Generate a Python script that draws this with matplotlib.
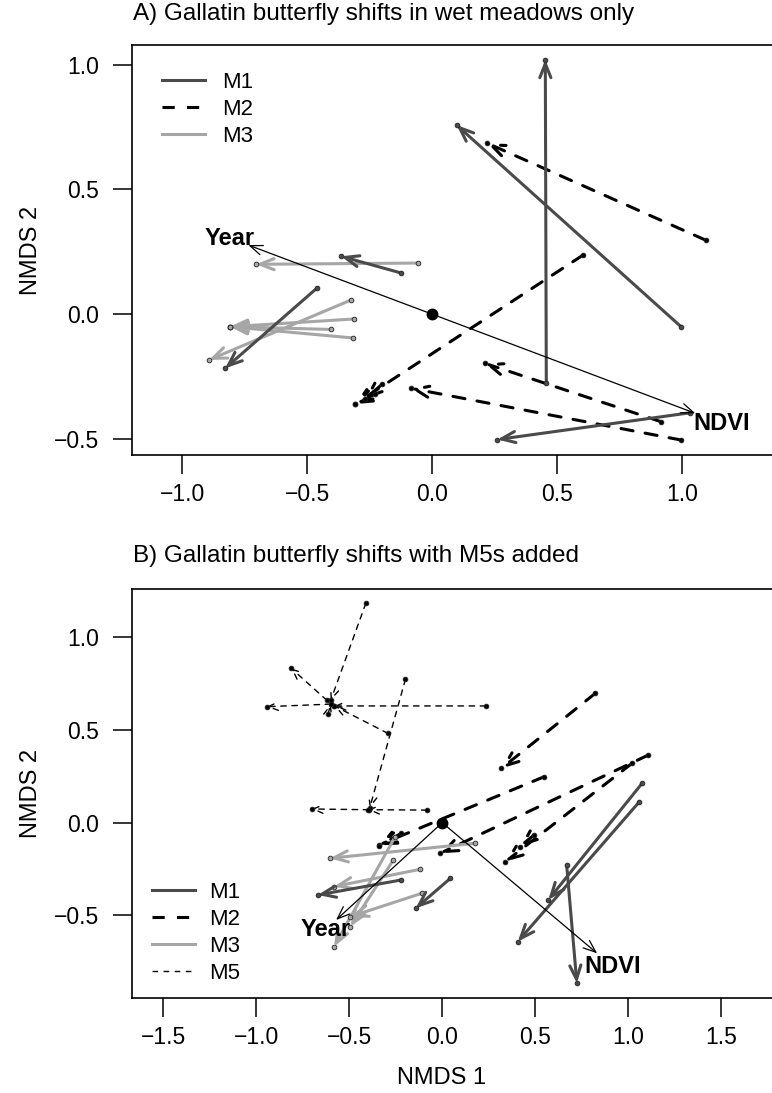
import numpy as np
import matplotlib
matplotlib.use('Agg')
import matplotlib.pyplot as plt

plt.rcParams['font.family'] = ['Liberation Sans', 'DejaVu Sans']

W, H = 772, 1093   #output size in px

#colours / styles of the meadow groups
c_m1 = '#4a4a4a'
c_m2 = '#000000'
c_m3 = '#a6a6a6'

# ---------------- panel A data (start -> end of each shift) ----------------
a_m1_x0 = [0.456, 0.995, 1.030, -0.124, -0.460]
a_m1_y0 = [-0.275, -0.050, -0.395, 0.165, 0.106]
a_m1_x1 = [0.452, 0.097, 0.260, -0.365, -0.829]
a_m1_y1 = [1.020, 0.758, -0.502, 0.232, -0.217]

a_m2_x0 = [1.093, 0.603, 0.995, 0.913, -0.200, -0.230]
a_m2_y0 = [0.297, 0.237, -0.504, -0.430, -0.280, -0.320]
a_m2_x1 = [0.220, -0.310, -0.085, 0.211, -0.270, -0.310]
a_m2_y1 = [0.685, -0.360, -0.297, -0.197, -0.340, -0.360]

a_m3_x0 = [-0.058, -0.325, -0.312, -0.319, -0.406]
a_m3_y0 = [0.205, 0.057, -0.019, -0.095, -0.061]
a_m3_x1 = [-0.705, -0.893, -0.809, -0.809, -0.809]
a_m3_y1 = [0.200, -0.183, -0.050, -0.050, -0.050]

a_env_names = ['Year', 'NDVI']
a_env_x = [-0.736, 1.052]
a_env_y = [0.277, -0.397]

# ---------------- panel B data ----------------
b_m1_x0 = [1.075, 1.060, 0.669, -0.220, 0.044]
b_m1_y0 = [0.213, 0.113, -0.228, -0.309, -0.300]
b_m1_x1 = [0.570, 0.406, 0.724, -0.669, -0.143]
b_m1_y1 = [-0.417, -0.642, -0.867, -0.390, -0.462]

b_m2_x0 = [0.823, 1.108, 1.020, 0.548, 0.494, -0.220]
b_m2_y0 = [0.698, 0.365, 0.320, 0.248, -0.066, -0.057]
b_m2_x1 = [0.318, -0.011, 0.340, -0.340, 0.417, -0.340]
b_m2_y1 = [0.293, -0.165, -0.210, -0.120, -0.129, -0.126]

b_m3_x0 = [0.175, -0.121, -0.110, -0.253, -0.263]
b_m3_y0 = [-0.111, -0.252, -0.381, -0.075, -0.201]
b_m3_x1 = [-0.604, -0.582, -0.494, -0.582, -0.494]
b_m3_y1 = [-0.192, -0.345, -0.507, -0.669, -0.561]

b_m5_x0 = [-0.411, -0.600, -0.620, 0.234, -0.198, -0.292, -0.395, -0.082, -0.614]
b_m5_y0 = [1.184, 0.640, 0.660, 0.630, 0.774, 0.482, 0.070, 0.068, 0.587]
b_m5_x1 = [-0.600, -0.944, -0.812, -0.580, -0.390, -0.580, -0.703, -0.400, -0.600]
b_m5_y1 = [0.660, 0.626, 0.833, 0.630, 0.080, 0.630, 0.074, 0.070, 0.640]

b_env_names = ['Year', 'NDVI']
b_env_x = [-0.571, 0.833]
b_env_y = [-0.525, -0.705]


def shifts(ax, x0, y0, x1, y1, col, lw, ls, hl=1.0, hw=0.4):
    for i in range(len(x0)):
        ax.annotate('', xy=(x1[i], y1[i]), xytext=(x0[i], y0[i]),
                    arrowprops=dict(arrowstyle='->,head_length=%.2f,head_width=%.2f' % (hl, hw),
                                    color=col, lw=lw, linestyle=ls,
                                    shrinkA=0, shrinkB=0))
    ax.plot(x0 + x1, y0 + y1, 'o', ms=3.4, mfc=col, mec='#222222', mew=0.6, zorder=3)


def envfit(ax, names, ex, ey):
    for n, x, y in zip(names, ex, ey):
        ax.annotate('', xy=(x, y), xytext=(0, 0),
                    arrowprops=dict(arrowstyle='->,head_length=0.9,head_width=0.35',
                                    color='black', lw=0.9, shrinkA=0, shrinkB=0), zorder=4)
        ax.text(x * 1.1, y * 1.1, n, ha='center', va='center', fontsize=17,
                fontweight='bold', zorder=5)
    ax.plot([0], [0], 'o', color='black', ms=7.5, zorder=5)


def fmt(v):
    return ('%.1f' % v).replace('-', '\u2212')


def style(ax, xlim, ylim, xt, yt):
    ax.set_xlim(xlim)
    ax.set_ylim(ylim)
    ax.set_xticks(xt)
    ax.set_yticks(yt)
    ax.set_xticklabels([fmt(v) for v in xt])
    ax.set_yticklabels([fmt(v) for v in yt])
    ax.tick_params(direction='out', length=13.5, width=1.1, labelsize=16.5)
    ax.tick_params(axis='x', pad=7)
    ax.tick_params(axis='y', pad=10)
    ax.spines['right'].set_visible(False)
    for s in ['left', 'bottom', 'top']:
        ax.spines[s].set_linewidth(1.2)


fig = plt.figure(figsize=(W / 100, H / 100), dpi=100)

dash = (0, (4, 4))

# panel A
axA = fig.add_axes([131.7 / W, (H - 455) / H, 655.6 / W, 410.1 / H])
style(axA, (-1.2025, 1.42), (-0.564, 1.079), [-1.0, -0.5, 0.0, 0.5, 1.0], [-0.5, 0.0, 0.5, 1.0])
shifts(axA, a_m2_x0, a_m2_y0, a_m2_x1, a_m2_y1, c_m2, 2.2, dash)
shifts(axA, a_m3_x0, a_m3_y0, a_m3_x1, a_m3_y1, c_m3, 2.2, '-')
shifts(axA, a_m1_x0, a_m1_y0, a_m1_x1, a_m1_y1, c_m1, 2.2, '-')
envfit(axA, a_env_names, a_env_x, a_env_y)
la = [axA.plot([], [], color=c_m1, lw=2.2)[0],
      axA.plot([], [], color=c_m2, lw=2.2, ls=dash)[0],
      axA.plot([], [], color=c_m3, lw=2.2)[0]]
axA.legend(la, ['M1', 'M2', 'M3'], loc='upper left', bbox_to_anchor=(0.046, 0.935),
           frameon=False, fontsize=16, handlelength=1.95, handletextpad=0.75,
           borderpad=0, borderaxespad=0, labelspacing=0.27)
axA.set_ylabel('NMDS 2', fontsize=17)
axA.yaxis.set_label_coords((42 - 131.7) / 655.6, 0.5)
fig.text(133 / W, 1 - 14 / H, 'A) Gallatin butterfly shifts in wet meadows only',
         fontsize=17.5, ha='left', va='center')

# panel B
axB = fig.add_axes([131.7 / W, (H - 998) / H, 649 / W, 408.8 / H])
style(axB, (-1.67, 1.82), (-0.946, 1.26), [-1.5, -1.0, -0.5, 0.0, 0.5, 1.0, 1.5], [-0.5, 0.0, 0.5, 1.0])
shifts(axB, b_m5_x0, b_m5_y0, b_m5_x1, b_m5_y1, 'black', 1.0, dash, hl=0.7, hw=0.3)
shifts(axB, b_m2_x0, b_m2_y0, b_m2_x1, b_m2_y1, c_m2, 2.2, dash)
shifts(axB, b_m3_x0, b_m3_y0, b_m3_x1, b_m3_y1, c_m3, 2.2, '-')
shifts(axB, b_m1_x0, b_m1_y0, b_m1_x1, b_m1_y1, c_m1, 2.2, '-')
envfit(axB, b_env_names, b_env_x, b_env_y)
lb = [axB.plot([], [], color=c_m1, lw=2.2)[0],
      axB.plot([], [], color=c_m2, lw=2.2, ls=dash)[0],
      axB.plot([], [], color=c_m3, lw=2.2)[0],
      axB.plot([], [], color='black', lw=1.0, ls=dash)[0]]
axB.legend(lb, ['M1', 'M2', 'M3', 'M5'], loc='lower left', bbox_to_anchor=(0.031, 0.035),
           frameon=False, fontsize=16, handlelength=1.95, handletextpad=0.65,
           borderpad=0, borderaxespad=0, labelspacing=0.27)
axB.set_ylabel('NMDS 2', fontsize=17)
axB.yaxis.set_label_coords((42 - 131.7) / 649, 0.5)
axB.set_xlabel('NMDS 1', fontsize=17)
axB.xaxis.set_label_coords((442 - 131.7) / 649, (998 - 1067) / 408.8)
fig.text(133 / W, 1 - 556 / H, 'B) Gallatin butterfly shifts with M5s added',
         fontsize=17.5, ha='left', va='center')

fig.savefig('out.png', dpi=100)
